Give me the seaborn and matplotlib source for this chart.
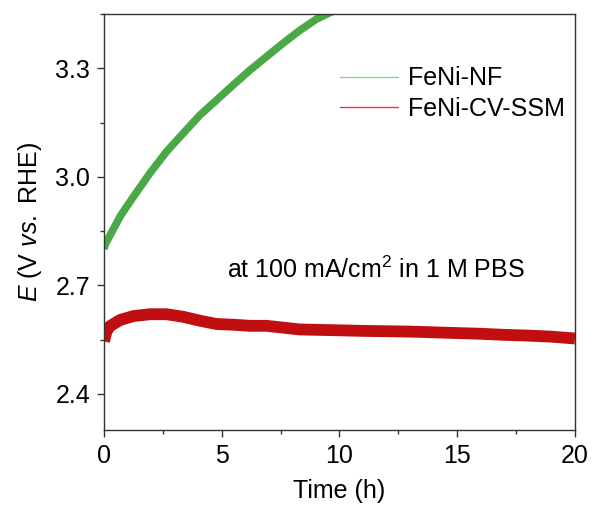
import numpy as np
import pandas as pd
import matplotlib
matplotlib.use("Agg")
import matplotlib.pyplot as plt
import seaborn as sns
from matplotlib.ticker import MultipleLocator, FormatStrFormatter
from matplotlib.lines import Line2D

# Data
nf_time = [0, 0.04, 0.68, 1.25, 1.95, 2.66, 3.36, 4.08, 4.78, 5.49, 6.2, 6.9, 7.6, 8.3, 9.0, 9.6, 10.0]
nf_e = [2.80, 2.812, 2.89, 2.945, 3.01, 3.07, 3.12, 3.171, 3.212, 3.254, 3.295, 3.332, 3.369, 3.404, 3.435, 3.454, 3.466]
ssm_time = [0, 0.1, 0.25, 0.68, 1.25, 1.95, 2.66, 3.36, 4.08, 4.78, 5.49, 6.2, 6.9, 7.6, 8.3, 9.7, 11, 12, 13, 14, 15, 16, 17, 18, 19, 20]
ssm_e = [2.545, 2.572, 2.587, 2.604, 2.615, 2.62, 2.62, 2.613, 2.602, 2.593, 2.591, 2.588, 2.588, 2.583, 2.578, 2.576, 2.574, 2.573, 2.572, 2.57, 2.568, 2.566, 2.563, 2.561, 2.558, 2.553]
labels = ["FeNi-NF", "FeNi-CV-SSM"]

df = pd.concat([
    pd.DataFrame({"t": nf_time, "E": nf_e, "s": labels[0]}),
    pd.DataFrame({"t": ssm_time, "E": ssm_e, "s": labels[1]}),
])

sns.set_style("ticks")
plt.rcParams["font.family"] = ["Liberation Sans", "DejaVu Sans"]
plt.rcParams["mathtext.fontset"] = "custom"
plt.rcParams["mathtext.rm"] = "Liberation Sans"
plt.rcParams["mathtext.it"] = "Liberation Sans:italic"
plt.rcParams["text.color"] = "black"
plt.rcParams["axes.labelcolor"] = "black"

fs = 18
fig = plt.figure(figsize=(5.93, 5.09), dpi=100)
ax = fig.add_axes([0.1754, 0.1552, 0.7942, 0.8173])

line_colors = {labels[0]: "#4aa846", labels[1]: "#c00e11"}
widths = {labels[0]: 5.5, labels[1]: 8.5}
for lab in labels:
    sub = df[df["s"] == lab]
    sns.lineplot(data=sub, x="t", y="E", color=line_colors[lab], linewidth=widths[lab],
                 ax=ax, legend=False, solid_capstyle="butt")

ax.set_xlim(0, 20)
ax.set_ylim(2.30, 3.45)
ax.xaxis.set_major_locator(MultipleLocator(5))
ax.xaxis.set_minor_locator(MultipleLocator(2.5))
ax.set_yticks([2.4, 2.7, 3.0, 3.3])
ax.yaxis.set_minor_locator(MultipleLocator(0.15))
ax.yaxis.set_major_formatter(FormatStrFormatter("%.1f"))

for sp in ax.spines.values():
    sp.set_color("#333333")
    sp.set_linewidth(1.0)
ax.tick_params(axis="both", which="major", direction="out", length=5, width=1.0,
               labelsize=fs, colors="#333333", labelcolor="black", pad=5)
ax.tick_params(axis="both", which="minor", direction="out", length=3, width=1.0, colors="#333333")

ax.set_xlabel("Time (h)", fontsize=fs, labelpad=8)
ax.set_ylabel(r"$\it{E}$ (V $\it{vs.}$ RHE)", fontsize=fs, labelpad=8)

handles = [Line2D([], [], color="#8fd08c", lw=1.0), Line2D([], [], color="#e8343a", lw=1.0)]
ax.legend(handles, labels, loc="upper right", bbox_to_anchor=(1.01, 0.91), frameon=False,
          fontsize=fs, handlelength=2.3, handletextpad=0.4, labelspacing=0.25, borderaxespad=0.2)

ax.text(11.55, 2.744, r"at 100 mA/cm$^2$ in 1 M PBS", fontsize=fs, ha="center", va="center")

fig.savefig("out.png", dpi=100)
